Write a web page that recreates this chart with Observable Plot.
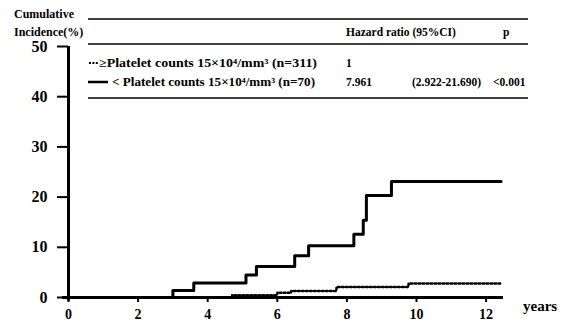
<!DOCTYPE html>
<html><head><meta charset="utf-8">
<script src="https://cdn.jsdelivr.net/npm/d3@7"></script>
<script src="https://cdn.jsdelivr.net/npm/@observablehq/plot@0.6"></script>
<style>body{margin:0;background:#fff;overflow:hidden}</style>
</head><body><div id="chart"></div>
<script>
// Kaplan-Meier style cumulative incidence (%)
const lowYears      = [0, 4.7, 6.0, 6.4, 7.7, 9.77, 12.43];
const lowIncidence  = [0, 0.45, 0.95, 1.3, 2.1, 2.8, 2.8];
const highYears     = [0, 3.0, 3.6, 5.1, 5.4, 6.5, 6.9, 8.2, 8.47, 8.56, 9.28, 12.43];
const highIncidence = [0, 1.4, 2.9, 4.5, 6.2, 8.3, 10.3, 12.6, 15.4, 20.3, 23.1, 23.1];
const xTicks = [0, 2, 4, 6, 8, 10, 12];
const yTicks = [0, 10, 20, 30, 40, 50];
const yTitle = ["Cumulative", "Incidence(%)"];
const xTitle = "years";
const tableHeader = ["Hazard ratio (95%CI)", "p"];
const groupLabels = ["≥Platelet counts 15×10⁴/mm³ (n=311)", "< Platelet counts 15×10⁴/mm³ (n=70)"];
const hazardRatios = ["1", "7.961"];
const confIntervals = ["", "(2.922-21.690)"];
const pValues = ["", "<0.001"];

const low = lowYears.map((t, i) => ({t, v: lowIncidence[i]}));
const high = highYears.map((t, i) => ({t, v: highIncidence[i]}));
const font = "'Liberation Serif', 'Times New Roman', serif";

const chart = Plot.plot({
  width: 564, height: 325,
  marginLeft: 68, marginRight: 61, marginTop: 46, marginBottom: 28,
  x: {domain: [0, 12.5]},
  y: {domain: [0, 50]},
  style: {fontFamily: font, fontWeight: "bold", background: "white", color: "black"},
  marks: [
    Plot.axisX(xTicks, {tickSize: 5, tickPadding: 7, fontSize: 14, label: null, strokeWidth: 2}),
    Plot.axisY(yTicks, {tickSize: 11, tickPadding: 10, fontSize: 16, label: null, strokeWidth: 2}),
    Plot.ruleY([0], {x1: -0.17, x2: 12.5, strokeWidth: 3}),
    Plot.ruleX([0], {y1: -0.7, y2: 50, strokeWidth: 3}),
    Plot.line(low, {x: "t", y: "v", curve: "step-after", strokeWidth: 2.4, strokeDasharray: "1.8,2.2"}),
    Plot.line(high, {x: "t", y: "v", curve: "step-after", strokeWidth: 3})
  ]
});
document.getElementById("chart").appendChild(chart);

const svg = d3.select(chart);
const g = svg.append("g").attr("font-family", font).attr("font-weight", "bold")
  .attr("fill", "black").attr("text-anchor", "start");
// y title
g.append("text").attr("x", 14).attr("y", 18).attr("font-size", 12).text(yTitle[0]);
g.append("text").attr("x", 14).attr("y", 36).attr("font-size", 12).text(yTitle[1]);
// x title
g.append("text").attr("x", 523).attr("y", 311).attr("font-size", 15).text(xTitle);
// table rules
[19, 44, 98].forEach(y => g.append("line").attr("x1", 88).attr("x2", 528).attr("y1", y).attr("y2", y)
  .attr("stroke", "black").attr("stroke-width", 1.6));
// header
g.append("text").attr("x", 346).attr("y", 36).attr("font-size", 11.5).text(tableHeader[0]);
g.append("text").attr("x", 503).attr("y", 36).attr("font-size", 11.5).text(tableHeader[1]);
// rows
const rowY = [67, 86];
g.append("line").attr("x1", 89).attr("x2", 98).attr("y1", 63).attr("y2", 63).attr("stroke", "black")
  .attr("stroke-width", 2).attr("stroke-dasharray", "2,1.4");
g.append("line").attr("x1", 88).attr("x2", 108).attr("y1", 82).attr("y2", 82).attr("stroke", "black")
  .attr("stroke-width", 2.5);
const labelX = [99, 112];
const labelW = [218, 203];
groupLabels.forEach((s, i) => {
  g.append("text").attr("x", labelX[i]).attr("y", rowY[i]).attr("font-size", 12)
    .attr("textLength", labelW[i]).attr("lengthAdjust", "spacingAndGlyphs").text(s);
  g.append("text").attr("x", 346).attr("y", rowY[i]).attr("font-size", 11.5).text(hazardRatios[i]);
  g.append("text").attr("x", 412).attr("y", rowY[i]).attr("font-size", 11.5).text(confIntervals[i]);
  g.append("text").attr("x", 493).attr("y", rowY[i]).attr("font-size", 11.5).text(pValues[i]);
});
</script>
</body></html>
